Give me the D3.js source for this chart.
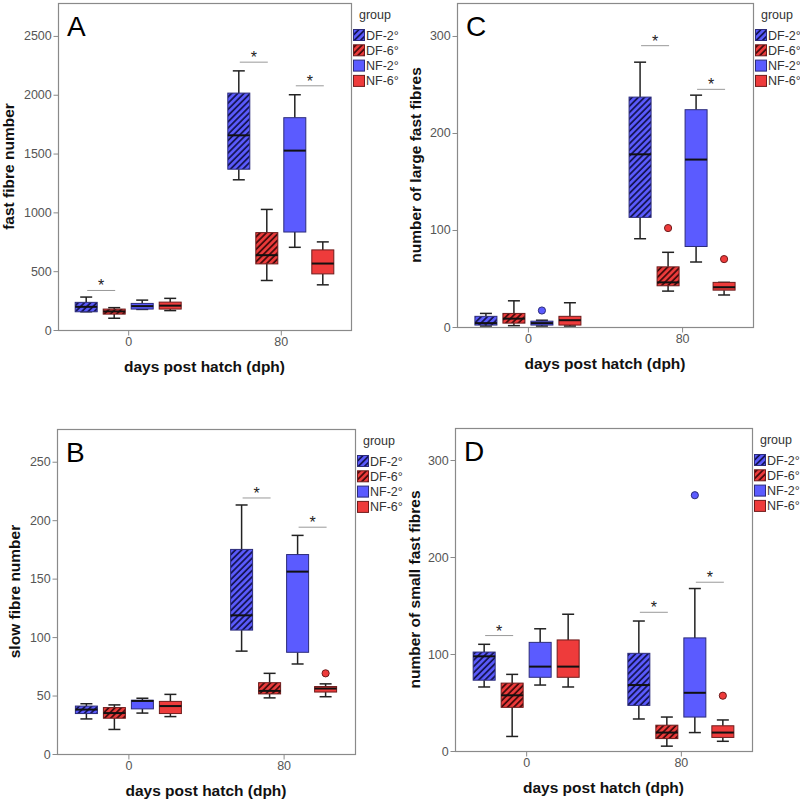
<!DOCTYPE html>
<html><head><meta charset="utf-8">
<script src="https://cdn.jsdelivr.net/npm/d3@7"></script>
<style>body{margin:0;background:#fff}svg{display:block}</style>
</head><body>
<svg id="chart" width="800" height="801"></svg>
<script>
// ---------- data ----------
const days = ["0", "80"];
const groups = ["DF-2°", "DF-6°", "NF-2°", "NF-6°"];
const hatched = [true, true, false, false];
const groupColors = ["#5b5bff", "#ee3b3b", "#5b5bff", "#ee3b3b"];

// [min, q1, median, q3, max] per group
const fastFibreDay0  = [[155,155,197,235,280],[100,135,158,178,190],[175,178,203,226,254],[165,178,207,237,269]];
const fastFibreDay80 = [[1277,1367,1655,2014,2203],[421,562,636,828,1025],[703,833,1525,1805,2000],[384,477,565,681,749]];
const fastFibreOutliers = [];
const fastFibreSig = [["0","DF-2°","DF-6°",336],["80","DF-2°","DF-6°",2277],["80","NF-2°","NF-6°",2076]];
const fastFibreTicks = [0,500,1000,1500,2000,2500];

const slowFibreDay0  = [[30,34.6,38,41,43],[21,30.6,35,39.7,42],[35,38.6,45.4,46,47.7],[32,34.6,41,45,51]];
const slowFibreDay80 = [[88,106,118.6,175,213],[48,51.4,54,61,69],[77,87,156,170.6,187],[49,53,56,57.7,60]];
const slowFibreOutliers = [["80","NF-6°",69]];
const slowFibreSig = [["80","DF-2°","DF-6°",219],["80","NF-2°","NF-6°",194]];
const slowFibreTicks = [0,50,100,150,200,250];

const largeFastDay0  = [[1,2,4,11,14],[1.4,4,8.6,14,27],[1,2,4,6,7],[1,2,7,11,25]];
const largeFastDay80 = [[91,113,178,237,273],[37,42.5,46,62,77],[67,83,172.6,224,239],[33,38,41,46,46]];
const largeFastOutliers = [["0","NF-2°",17],["80","DF-6°",102],["80","NF-6°",70]];
const largeFastSig = [["80","DF-2°","DF-6°",290],["80","NF-2°","NF-6°",245]];
const largeFastTicks = [0,100,200,300];

const smallFastDay0  = [[66,73,97.6,102,110],[15,45,57.4,70,79],[68,76,87,112,126],[66,76,87,114.5,141]];
const smallFastDay80 = [[33,47,68,100.7,134],[5,12.8,19,26.6,35],[19,35,60,116.6,167.5],[10,14,19,26,32]];
const smallFastOutliers = [["80","NF-2°",263.7],["80","NF-6°",57]];
const smallFastSig = [["0","DF-2°","DF-6°",119],["80","DF-2°","DF-6°",143],["80","NF-2°","NF-6°",174]];
const smallFastTicks = [0,100,200,300];

const panelLetters = ["A", "B", "C", "D"];
const yTitles = ["fast fibre number", "slow fibre number", "number of large fast fibres", "number of small fast fibres"];
const xTitle = "days post hatch (dph)";
const legendTitle = "group";

// ---------- layout ----------
const panels = [
  {letter:0, d0:fastFibreDay0, d80:fastFibreDay80, out:fastFibreOutliers, sig:fastFibreSig, ticks:fastFibreTicks, ymax:2780, frame:[58,3,351,330], ytx:9},
  {letter:1, d0:slowFibreDay0, d80:slowFibreDay80, out:slowFibreOutliers, sig:slowFibreSig, ticks:slowFibreTicks, ymax:278, frame:[57,429,355,754], ytx:15},
  {letter:2, d0:largeFastDay0, d80:largeFastDay80, out:largeFastOutliers, sig:largeFastSig, ticks:largeFastTicks, ymax:334, frame:[457,3,753,327], ytx:416},
  {letter:3, d0:smallFastDay0, d80:smallFastDay80, out:smallFastOutliers, sig:smallFastSig, ticks:smallFastTicks, ymax:333, frame:[455,428,752,751], ytx:415}
];

const svg = d3.select("#chart");
const FONT = "'Liberation Sans', Arial, sans-serif";
const defs = svg.append("defs");
["#ee3b3b","#5b5bff"].forEach((c,i)=>{
  const p = defs.append("pattern").attr("id","hatch"+i).attr("patternUnits","userSpaceOnUse")
    .attr("width",4.4).attr("height",4.4).attr("patternTransform","rotate(45)");
  p.append("rect").attr("width",4.4).attr("height",4.4).attr("fill",c);
  p.append("line").attr("x1",1).attr("x2",1).attr("y1",0).attr("y2",4.4)
    .attr("stroke", i===1 ? "#10104a" : "#3a0808").attr("stroke-width",1.7);
});
const fillFor = gi => hatched[gi] ? (groupColors[gi]==="#5b5bff" ? "url(#hatch1)" : "url(#hatch0)") : groupColors[gi];
const strokeFor = gi => groupColors[gi]==="#5b5bff" ? "#2c2c7a" : "#6e1c1c";

const gx = d3.scalePoint().domain(groups).range([-42, 42]);
const boxW = 22, capW = 12;

panels.forEach(P => {
  const [x0,y0,x1,y1] = P.frame;
  const g = svg.append("g");
  const x = d3.scalePoint().domain(days).range([x0,x1]).padding(0.46);
  const y = d3.scaleLinear().domain([0,P.ymax]).range([y1,y0]);

  // frame
  g.append("rect").attr("x",x0+0.5).attr("y",y0+0.5).attr("width",x1-x0).attr("height",y1-y0)
    .attr("fill","none").attr("stroke","#8a8a8a").attr("stroke-width",1.2);

  // y axis
  const ya = g.append("g").attr("transform",`translate(${x0+0.5},0)`)
    .call(d3.axisLeft(y).tickValues(P.ticks).tickSize(5).tickSizeOuter(0).tickFormat(d3.format("d")));
  ya.select(".domain").remove();
  ya.selectAll("line").attr("stroke","#8a8a8a");
  ya.selectAll("text").attr("font-family",FONT).attr("font-size",12.5).attr("fill","#555").attr("dx","0.1em");

  // x axis
  const xa = g.append("g").attr("transform",`translate(0,${y1+0.5})`)
    .call(d3.axisBottom(x).tickSize(5).tickSizeOuter(0));
  xa.select(".domain").remove();
  xa.selectAll("line").attr("stroke","#8a8a8a");
  xa.selectAll("text").attr("font-family",FONT).attr("font-size",12.5).attr("fill","#555").attr("dy","0.6em");

  // titles
  g.append("text").attr("x",(x0+x1)/2).attr("y",y1+42).attr("text-anchor","middle")
    .attr("font-family",FONT).attr("font-weight","bold").attr("font-size",15.5).attr("fill","#111").text(xTitle);
  g.append("text").attr("transform",`translate(${P.ytx+5},${(y0+y1)/2}) rotate(-90)`).attr("text-anchor","middle")
    .attr("font-family",FONT).attr("font-weight","bold").attr("font-size",15.5).attr("fill","#111").text(yTitles[P.letter]);
  g.append("text").attr("x",x0+9).attr("y",y0+33).attr("font-family",FONT).attr("font-size",28).attr("fill","#000")
    .text(panelLetters[P.letter]);

  // boxes
  [[days[0],P.d0],[days[1],P.d80]].forEach(([day,stats]) => {
    stats.forEach((s,gi) => {
      const cx = x(day) + gx(groups[gi]);
      const [mn,q1,md,q3,mx] = s;
      const bg = g.append("g");
      bg.append("line").attr("x1",cx).attr("x2",cx).attr("y1",y(q3)).attr("y2",y(mx)).attr("stroke","#222").attr("stroke-width",1.5);
      bg.append("line").attr("x1",cx).attr("x2",cx).attr("y1",y(q1)).attr("y2",y(mn)).attr("stroke","#222").attr("stroke-width",1.5);
      bg.append("line").attr("x1",cx-capW/2).attr("x2",cx+capW/2).attr("y1",y(mx)).attr("y2",y(mx)).attr("stroke","#222").attr("stroke-width",1.5);
      bg.append("line").attr("x1",cx-capW/2).attr("x2",cx+capW/2).attr("y1",y(mn)).attr("y2",y(mn)).attr("stroke","#222").attr("stroke-width",1.5);
      bg.append("rect").attr("x",cx-boxW/2).attr("y",y(q3)).attr("width",boxW).attr("height",Math.max(1,y(q1)-y(q3)))
        .attr("fill",fillFor(gi)).attr("stroke",strokeFor(gi)).attr("stroke-width",1);
      bg.append("line").attr("x1",cx-boxW/2).attr("x2",cx+boxW/2).attr("y1",y(md)).attr("y2",y(md)).attr("stroke","#111").attr("stroke-width",2);
    });
  });

  // outliers
  P.out.forEach(([day,grp,v]) => {
    const gi = groups.indexOf(grp);
    g.append("circle").attr("cx",x(day)+gx(grp)).attr("cy",y(v)).attr("r",3.6)
      .attr("fill",groupColors[gi]).attr("stroke",strokeFor(gi)).attr("stroke-width",1);
  });

  // significance markers
  P.sig.forEach(([day,a,b,v]) => {
    const xa1 = x(day)+gx(a), xb1 = x(day)+gx(b), yy = y(v);
    g.append("line").attr("x1",xa1+1).attr("x2",xb1+1).attr("y1",yy).attr("y2",yy).attr("stroke","#999").attr("stroke-width",1);
    g.append("text").attr("x",(xa1+xb1)/2+1).attr("y",yy+1).attr("text-anchor","middle")
      .attr("font-family",FONT).attr("font-size",16).attr("fill","#222").text("*");
  });

  // legend
  const lg = g.append("g").attr("transform",`translate(${x1+2},${y0})`);
  lg.append("text").attr("x",6).attr("y",16).attr("font-family",FONT).attr("font-size",12.5).attr("fill","#333").text(legendTitle);
  groups.forEach((grp,gi) => {
    const yy = 26 + gi*15.3;
    lg.append("rect").attr("x",0.5).attr("y",yy+0.5).attr("width",11).attr("height",11)
      .attr("fill",fillFor(gi)).attr("stroke",strokeFor(gi)).attr("stroke-width",1);
    lg.append("text").attr("x",13).attr("y",yy+10.5).attr("font-family",FONT).attr("font-size",12.5).attr("fill","#333").text(grp);
  });
});
</script>
</body></html>
